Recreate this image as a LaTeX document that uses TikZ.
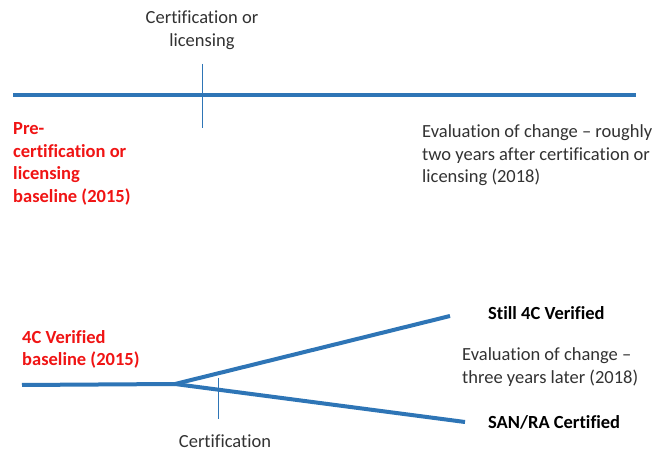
\documentclass[tikz,border=0pt]{standalone}
\usepackage{fontspec}
\setmainfont{Carlito}[Ligatures={TeX,NoCommon}]
\definecolor{lineblue}{RGB}{46,117,182}
\definecolor{txtred}{RGB}{240,20,20}
\definecolor{txtgray}{RGB}{50,50,50}
\begin{document}
\begin{tikzpicture}[x=1pt,y=-1pt,
  thickline/.style={draw=lineblue,line width=4pt},
  tickline/.style={draw=lineblue,line width=0.9pt},
  lbl/.style={inner sep=0pt,text=txtgray,font=\fontsize{18.5}{22.5}\selectfont},
  redlbl/.style={inner sep=0pt,text=txtred,font=\fontsize{18.5}{22.5}\selectfont\bfseries},
  boldlbl/.style={inner sep=0pt,text=black,font=\fontsize{18.5}{22.5}\selectfont\bfseries}]
\useasboundingbox[fill=white] (0,0) rectangle (654,454);
% top timeline
\coordinate (tl) at (13,95);
\coordinate (tr) at (636,95);
\coordinate (tt) at (202,64);
\coordinate (tb) at (202,128);
\draw[thickline] (tl) -- (tr);
\draw[tickline] (tt) -- (tb);
% multi-line nodes: base anchor = baseline of last line
\node[lbl,anchor=base,align=center] (certlic) at (202,46.5) {Certification or\\licensing};
\node[redlbl,anchor=base west,align=left] (pre) at (13,202.5) {Pre-\\certification or\\licensing\\baseline (2015)};
\node[lbl,anchor=base west,align=left] (eval1) at (422,183) {Evaluation of change – roughly\\two years after certification or\\licensing (2018)};
% bottom branching
\coordinate (bl) at (22,385);
\coordinate (bj) at (175,384);
\coordinate (bu) at (450,316);
\coordinate (bd) at (465,422);
\coordinate (bt) at (218,378);
\coordinate (bb) at (218,419);
\draw[thickline] (bl) -- (bj) -- (bu);
\draw[thickline] (bj) -- (bd);
\draw[tickline] (bt) -- (bb);
\node[redlbl,anchor=base west,align=left] (base4c) at (22,366) {4C Verified\\baseline (2015)};
\node[boldlbl,anchor=base west] (still) at (488,320) {Still 4C Verified};
\node[lbl,anchor=base west,align=left] (eval2) at (462,383.5) {Evaluation of change –\\three years later (2018)};
\node[boldlbl,anchor=base west] (sanra) at (488,429) {SAN/RA Certified};
\node[lbl,anchor=base] (cert) at (225,448) {Certification};
\end{tikzpicture}
\end{document}
